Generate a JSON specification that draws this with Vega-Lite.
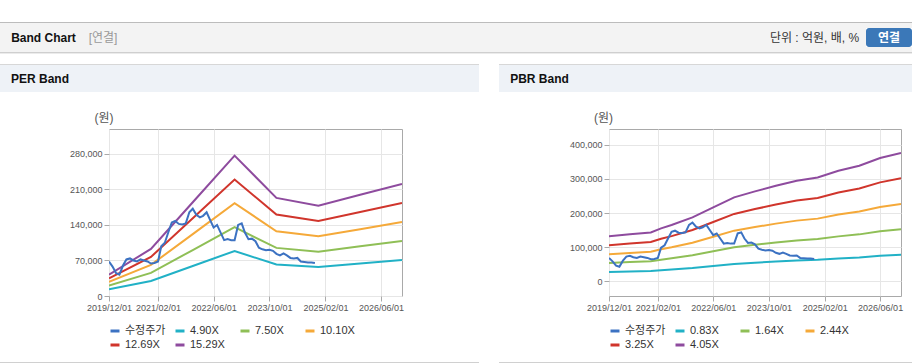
{
  "$schema": "https://vega.github.io/schema/vega-lite/v6.json",
  "padding": {"top": 22, "left": 0, "right": 0, "bottom": 0},
  "background": "#ffffff",
  "spacing": 0,
  "resolve": {"scale": {"color": "independent"}},
  "config": {
    "font": "Liberation Sans, Noto Sans CJK KR",
    "view": {"stroke": null},
    "concat": {"spacing": 0},
    "axis": {
      "domain": false, "grid": true, "gridColor": "#e6e6e6", "tickColor": "#a9a9a9", "tickSize": 5,
      "labelPadding": 2, "labelColor": "#555555", "labelFontSize": 9, "labelFont": "Liberation Sans",
      "labelFlush": false
    },
    "legend": {
      "orient": "bottom", "direction": "horizontal", "columns": 4, "gridAlign": "all",
      "symbolType": "stroke", "symbolStrokeWidth": 3, "symbolSize": 81, "labelFontSize": 11,
      "labelColor": "#333333", "labelFont": "Liberation Sans, Noto Sans CJK KR", "columnPadding": 3,
      "rowPadding": 2, "offset": 13, "labelOffset": 4
    }
  },
  "datasets": {
    "price": [
      {"d": "2019-12-01", "s": "수정주가", "v": 68000}, {"d": "2020-01-01", "s": "수정주가", "v": 58000},
      {"d": "2020-02-01", "s": "수정주가", "v": 45000}, {"d": "2020-03-01", "s": "수정주가", "v": 42000},
      {"d": "2020-04-01", "s": "수정주가", "v": 60000}, {"d": "2020-05-01", "s": "수정주가", "v": 72000},
      {"d": "2020-06-01", "s": "수정주가", "v": 74000}, {"d": "2020-07-01", "s": "수정주가", "v": 70000},
      {"d": "2020-08-01", "s": "수정주가", "v": 68000}, {"d": "2020-09-01", "s": "수정주가", "v": 72000},
      {"d": "2020-10-01", "s": "수정주가", "v": 70000}, {"d": "2020-11-01", "s": "수정주가", "v": 68000},
      {"d": "2020-12-01", "s": "수정주가", "v": 64000}, {"d": "2021-01-01", "s": "수정주가", "v": 65000},
      {"d": "2021-02-01", "s": "수정주가", "v": 68000}, {"d": "2021-03-01", "s": "수정주가", "v": 98000},
      {"d": "2021-04-01", "s": "수정주가", "v": 105000}, {"d": "2021-05-01", "s": "수정주가", "v": 125000},
      {"d": "2021-06-01", "s": "수정주가", "v": 145000}, {"d": "2021-07-01", "s": "수정주가", "v": 148000},
      {"d": "2021-08-01", "s": "수정주가", "v": 142000}, {"d": "2021-09-01", "s": "수정주가", "v": 141000},
      {"d": "2021-10-01", "s": "수정주가", "v": 143000}, {"d": "2021-11-01", "s": "수정주가", "v": 165000},
      {"d": "2021-12-01", "s": "수정주가", "v": 172000}, {"d": "2022-01-01", "s": "수정주가", "v": 160000},
      {"d": "2022-02-01", "s": "수정주가", "v": 155000}, {"d": "2022-03-01", "s": "수정주가", "v": 158000},
      {"d": "2022-04-01", "s": "수정주가", "v": 165000}, {"d": "2022-05-01", "s": "수정주가", "v": 150000},
      {"d": "2022-06-01", "s": "수정주가", "v": 135000}, {"d": "2022-07-01", "s": "수정주가", "v": 140000},
      {"d": "2022-08-01", "s": "수정주가", "v": 125000}, {"d": "2022-09-01", "s": "수정주가", "v": 110000},
      {"d": "2022-10-01", "s": "수정주가", "v": 112000}, {"d": "2022-11-01", "s": "수정주가", "v": 110000},
      {"d": "2022-12-01", "s": "수정주가", "v": 110000}, {"d": "2023-01-01", "s": "수정주가", "v": 140000},
      {"d": "2023-02-01", "s": "수정주가", "v": 143000}, {"d": "2023-03-01", "s": "수정주가", "v": 125000},
      {"d": "2023-04-01", "s": "수정주가", "v": 112000}, {"d": "2023-05-01", "s": "수정주가", "v": 113000},
      {"d": "2023-06-01", "s": "수정주가", "v": 108000}, {"d": "2023-07-01", "s": "수정주가", "v": 95000},
      {"d": "2023-08-01", "s": "수정주가", "v": 92000}, {"d": "2023-09-01", "s": "수정주가", "v": 90000},
      {"d": "2023-10-01", "s": "수정주가", "v": 91000}, {"d": "2023-11-01", "s": "수정주가", "v": 89000},
      {"d": "2023-12-01", "s": "수정주가", "v": 83000}, {"d": "2024-01-01", "s": "수정주가", "v": 80000},
      {"d": "2024-02-01", "s": "수정주가", "v": 84000}, {"d": "2024-03-01", "s": "수정주가", "v": 80000},
      {"d": "2024-04-01", "s": "수정주가", "v": 75000}, {"d": "2024-05-01", "s": "수정주가", "v": 74000},
      {"d": "2024-06-01", "s": "수정주가", "v": 75000}, {"d": "2024-07-01", "s": "수정주가", "v": 68000},
      {"d": "2024-08-01", "s": "수정주가", "v": 67000}, {"d": "2024-09-01", "s": "수정주가", "v": 66000},
      {"d": "2024-10-01", "s": "수정주가", "v": 66000}, {"d": "2024-11-01", "s": "수정주가", "v": 65000}
    ],
    "per": [
      {"d": "2019-12-01", "s": "4.90X", "v": 13460}, {"d": "2020-12-01", "s": "4.90X", "v": 29710},
      {"d": "2021-12-01", "s": "4.90X", "v": 59180}, {"d": "2022-12-01", "s": "4.90X", "v": 88640},
      {"d": "2023-12-01", "s": "4.90X", "v": 61920}, {"d": "2024-12-01", "s": "4.90X", "v": 57050},
      {"d": "2025-12-01", "s": "4.90X", "v": 63900}, {"d": "2026-12-01", "s": "4.90X", "v": 70760},
      {"d": "2019-12-01", "s": "7.50X", "v": 20600}, {"d": "2020-12-01", "s": "7.50X", "v": 45470},
      {"d": "2021-12-01", "s": "7.50X", "v": 90580}, {"d": "2022-12-01", "s": "7.50X", "v": 135680},
      {"d": "2023-12-01", "s": "7.50X", "v": 94770}, {"d": "2024-12-01", "s": "7.50X", "v": 87320},
      {"d": "2025-12-01", "s": "7.50X", "v": 97810}, {"d": "2026-12-01", "s": "7.50X", "v": 108310},
      {"d": "2019-12-01", "s": "10.10X", "v": 27750}, {"d": "2020-12-01", "s": "10.10X", "v": 61240},
      {"d": "2021-12-01", "s": "10.10X", "v": 121980}, {"d": "2022-12-01", "s": "10.10X", "v": 182710},
      {"d": "2023-12-01", "s": "10.10X", "v": 127620}, {"d": "2024-12-01", "s": "10.10X", "v": 117580},
      {"d": "2025-12-01", "s": "10.10X", "v": 131710}, {"d": "2026-12-01", "s": "10.10X", "v": 145850},
      {"d": "2019-12-01", "s": "12.69X", "v": 34860}, {"d": "2020-12-01", "s": "12.69X", "v": 76940},
      {"d": "2021-12-01", "s": "12.69X", "v": 153260}, {"d": "2022-12-01", "s": "12.69X", "v": 229560},
      {"d": "2023-12-01", "s": "12.69X", "v": 160350}, {"d": "2024-12-01", "s": "12.69X", "v": 147740},
      {"d": "2025-12-01", "s": "12.69X", "v": 165490}, {"d": "2026-12-01", "s": "12.69X", "v": 183260},
      {"d": "2019-12-01", "s": "15.29X", "v": 42000}, {"d": "2020-12-01", "s": "15.29X", "v": 92700},
      {"d": "2021-12-01", "s": "15.29X", "v": 184660}, {"d": "2022-12-01", "s": "15.29X", "v": 276600},
      {"d": "2023-12-01", "s": "15.29X", "v": 193200}, {"d": "2024-12-01", "s": "15.29X", "v": 178010},
      {"d": "2025-12-01", "s": "15.29X", "v": 199400}, {"d": "2026-12-01", "s": "15.29X", "v": 220800}
    ],
    "pbr": [
      {"d": "2019-12-01", "s": "0.83X", "v": 26900}, {"d": "2020-06-01", "s": "0.83X", "v": 28100},
      {"d": "2020-12-01", "s": "0.83X", "v": 29300}, {"d": "2021-03-01", "s": "0.83X", "v": 31700},
      {"d": "2021-06-01", "s": "0.83X", "v": 33700}, {"d": "2021-12-01", "s": "0.83X", "v": 38300},
      {"d": "2022-06-01", "s": "0.83X", "v": 44400}, {"d": "2022-12-01", "s": "0.83X", "v": 50400},
      {"d": "2023-06-01", "s": "0.83X", "v": 54000}, {"d": "2023-12-01", "s": "0.83X", "v": 57400},
      {"d": "2024-06-01", "s": "0.83X", "v": 60400}, {"d": "2024-12-01", "s": "0.83X", "v": 62400},
      {"d": "2025-06-01", "s": "0.83X", "v": 66400}, {"d": "2025-12-01", "s": "0.83X", "v": 69500},
      {"d": "2026-06-01", "s": "0.83X", "v": 74100}, {"d": "2026-12-01", "s": "0.83X", "v": 77100},
      {"d": "2019-12-01", "s": "1.64X", "v": 53200}, {"d": "2020-06-01", "s": "1.64X", "v": 55600},
      {"d": "2020-12-01", "s": "1.64X", "v": 57900}, {"d": "2021-03-01", "s": "1.64X", "v": 62700},
      {"d": "2021-06-01", "s": "1.64X", "v": 66700}, {"d": "2021-12-01", "s": "1.64X", "v": 75800},
      {"d": "2022-06-01", "s": "1.64X", "v": 87700}, {"d": "2022-12-01", "s": "1.64X", "v": 99600},
      {"d": "2023-06-01", "s": "1.64X", "v": 106700}, {"d": "2023-12-01", "s": "1.64X", "v": 113400},
      {"d": "2024-06-01", "s": "1.64X", "v": 119400}, {"d": "2024-12-01", "s": "1.64X", "v": 123300},
      {"d": "2025-06-01", "s": "1.64X", "v": 131300}, {"d": "2025-12-01", "s": "1.64X", "v": 137200},
      {"d": "2026-06-01", "s": "1.64X", "v": 146400}, {"d": "2026-12-01", "s": "1.64X", "v": 152300},
      {"d": "2019-12-01", "s": "2.44X", "v": 79100}, {"d": "2020-06-01", "s": "2.44X", "v": 82700},
      {"d": "2020-12-01", "s": "2.44X", "v": 86200}, {"d": "2021-03-01", "s": "2.44X", "v": 93300},
      {"d": "2021-06-01", "s": "2.44X", "v": 99200}, {"d": "2021-12-01", "s": "2.44X", "v": 112700},
      {"d": "2022-06-01", "s": "2.44X", "v": 130400}, {"d": "2022-12-01", "s": "2.44X", "v": 148100},
      {"d": "2023-06-01", "s": "2.44X", "v": 158700}, {"d": "2023-12-01", "s": "2.44X", "v": 168800},
      {"d": "2024-06-01", "s": "2.44X", "v": 177600}, {"d": "2024-12-01", "s": "2.44X", "v": 183500},
      {"d": "2025-06-01", "s": "2.44X", "v": 195300}, {"d": "2025-12-01", "s": "2.44X", "v": 204200},
      {"d": "2026-06-01", "s": "2.44X", "v": 217800}, {"d": "2026-12-01", "s": "2.44X", "v": 226600},
      {"d": "2019-12-01", "s": "3.25X", "v": 105400}, {"d": "2020-06-01", "s": "3.25X", "v": 110100},
      {"d": "2020-12-01", "s": "3.25X", "v": 114800}, {"d": "2021-03-01", "s": "3.25X", "v": 124200},
      {"d": "2021-06-01", "s": "3.25X", "v": 132100}, {"d": "2021-12-01", "s": "3.25X", "v": 150100},
      {"d": "2022-06-01", "s": "3.25X", "v": 173700}, {"d": "2022-12-01", "s": "3.25X", "v": 197300},
      {"d": "2023-06-01", "s": "3.25X", "v": 211500}, {"d": "2023-12-01", "s": "3.25X", "v": 224800},
      {"d": "2024-06-01", "s": "3.25X", "v": 236600}, {"d": "2024-12-01", "s": "3.25X", "v": 244400},
      {"d": "2025-06-01", "s": "3.25X", "v": 260200}, {"d": "2025-12-01", "s": "3.25X", "v": 272000},
      {"d": "2026-06-01", "s": "3.25X", "v": 290100}, {"d": "2026-12-01", "s": "3.25X", "v": 301900},
      {"d": "2019-12-01", "s": "4.05X", "v": 131300}, {"d": "2020-06-01", "s": "4.05X", "v": 137200},
      {"d": "2020-12-01", "s": "4.05X", "v": 143000}, {"d": "2021-03-01", "s": "4.05X", "v": 154800},
      {"d": "2021-06-01", "s": "4.05X", "v": 164600}, {"d": "2021-12-01", "s": "4.05X", "v": 187100},
      {"d": "2022-06-01", "s": "4.05X", "v": 216500}, {"d": "2022-12-01", "s": "4.05X", "v": 245900},
      {"d": "2023-06-01", "s": "4.05X", "v": 263500}, {"d": "2023-12-01", "s": "4.05X", "v": 280100},
      {"d": "2024-06-01", "s": "4.05X", "v": 294800}, {"d": "2024-12-01", "s": "4.05X", "v": 304600},
      {"d": "2025-06-01", "s": "4.05X", "v": 324200}, {"d": "2025-12-01", "s": "4.05X", "v": 338900},
      {"d": "2026-06-01", "s": "4.05X", "v": 361500}, {"d": "2026-12-01", "s": "4.05X", "v": 376200}
    ]
  },
  "vconcat": [
    {"width": 912, "height": 1, "view": {"fill": "#bcbcbc"}, "data": {"values": []}, "mark": "text"},
    {"width": 912, "height": 5, "view": {"fill": "#f3f3f3"}, "data": {"values": []}, "mark": "text"},
    {
      "hconcat": [
        {"width": 87, "height": 19, "view": {"fill": "#f3f3f3"}, "data": {"values": [{"t": "Band Chart"}]},
         "mark": {"type": "text", "fontSize": 12, "fontWeight": "bold", "color": "#111111"}, "encoding": {"text": {"field": "t"}}},
        {"width": 32, "height": 19, "view": {"fill": "#f3f3f3"}, "data": {"values": [{"t": "[연결]"}]},
         "mark": {"type": "text", "fontSize": 12, "color": "#999999"}, "encoding": {"text": {"field": "t"}}},
        {"width": 649, "height": 19, "view": {"fill": "#f3f3f3"}, "data": {"values": []}, "mark": "text"},
        {"width": 93, "height": 19, "view": {"fill": "#f3f3f3"}, "data": {"values": [{"t": "단위 : 억원, 배, %"}]},
         "mark": {"type": "text", "fontSize": 12, "color": "#333333"}, "encoding": {"text": {"field": "t"}}},
        {"width": 5, "height": 19, "view": {"fill": "#f3f3f3"}, "data": {"values": []}, "mark": "text"},
        {"width": 46, "height": 19, "view": {"fill": "#3b78b8", "cornerRadius": 3}, "data": {"values": [{"t": "연결"}]},
         "mark": {"type": "text", "fontSize": 12, "fontWeight": "bold", "color": "#ffffff"}, "encoding": {"text": {"field": "t"}}}
      ],
      "spacing": 0
    },
    {"width": 912, "height": 5, "view": {"fill": "#f3f3f3"}, "data": {"values": []}, "mark": "text"},
    {"width": 912, "height": 1, "view": {"fill": "#cfcfcf"}, "data": {"values": []}, "mark": "text"},
    {"width": 912, "height": 1, "view": {"fill": "#ebebeb"}, "data": {"values": []}, "mark": "text"},
    {"width": 912, "height": 10, "data": {"values": []}, "mark": "text"},
    {
      "hconcat": [
        {"width": 479, "height": 1, "view": {"fill": "#d7d7d7"}, "data": {"values": []}, "mark": "text"},
        {"width": 20, "height": 1, "data": {"values": []}, "mark": "text"},
        {"width": 413, "height": 1, "view": {"fill": "#d7d7d7"}, "data": {"values": []}, "mark": "text"}
      ],
      "spacing": 0
    },
    {
      "hconcat": [
        {"width": 80, "height": 27, "view": {"fill": "#eef2f7"}, "data": {"values": [{"t": "PER Band"}]},
         "mark": {"type": "text", "fontSize": 12, "fontWeight": "bold", "color": "#111111"}, "encoding": {"text": {"field": "t"}}},
        {"width": 399, "height": 27, "view": {"fill": "#eef2f7"}, "data": {"values": []}, "mark": "text"},
        {"width": 20, "height": 27, "data": {"values": []}, "mark": "text"},
        {"width": 81, "height": 27, "view": {"fill": "#eef2f7"}, "data": {"values": [{"t": "PBR Band"}]},
         "mark": {"type": "text", "fontSize": 12, "fontWeight": "bold", "color": "#111111"}, "encoding": {"text": {"field": "t"}}},
        {"width": 332, "height": 27, "view": {"fill": "#eef2f7"}, "data": {"values": []}, "mark": "text"}
      ],
      "spacing": 0
    },
    {"width": 912, "height": 20, "data": {"values": []}, "mark": "text"},
    {
      "hconcat": [
        {"width": 88, "height": 12, "data": {"values": []}, "mark": "text"},
        {"width": 32, "height": 12, "data": {"values": [{"t": "(원)"}]},
         "mark": {"type": "text", "fontSize": 12, "color": "#555555"}, "encoding": {"text": {"field": "t"}}},
        {"width": 467, "height": 12, "data": {"values": []}, "mark": "text"},
        {"width": 33, "height": 12, "data": {"values": [{"t": "(원)"}]},
         "mark": {"type": "text", "fontSize": 12, "color": "#555555"}, "encoding": {"text": {"field": "t"}}},
        {"width": 292, "height": 12, "data": {"values": []}, "mark": "text"}
      ],
      "spacing": 0
    },
    {"width": 912, "height": 4, "data": {"values": []}, "mark": "text"},
    {
      "hconcat": [
        {"width": 109, "height": 167, "data": {"values": []}, "mark": "text"},
        {
          "width": 293, "height": 167,
          "view": {"stroke": "#a9a9a9", "fill": "#ffffff"},
          "encoding": {
            "x": {"field": "d", "type": "temporal",
              "scale": {"type": "utc", "domain": [{"year": 2019, "month": 12, "date": 1, "utc": true}, {"year": 2026, "month": 12, "date": 1, "utc": true}]},
              "axis": {"title": null, "format": "%Y/%m/%d", "labelOverlap": false, "labelFlush": false,
                "values": [{"year": 2019, "month": 12, "date": 1, "utc": true}, {"year": 2021, "month": 2, "date": 1, "utc": true}, {"year": 2022, "month": 6, "date": 1, "utc": true}, {"year": 2023, "month": 10, "date": 1, "utc": true}, {"year": 2025, "month": 2, "date": 1, "utc": true}, {"year": 2026, "month": 6, "date": 1, "utc": true}]}},
            "y": {"field": "v", "type": "quantitative",
              "scale": {"domain": [0, 329000], "nice": false, "zero": false},
              "axis": {"title": null, "values": [0, 70000, 140000, 210000, 280000], "format": ",d"}},
            "color": {"field": "s", "type": "nominal",
              "scale": {"domain": ["수정주가", "4.90X", "7.50X", "10.10X", "12.69X", "15.29X"], "range": ["#3c72c2", "#21b1c6", "#8fbf56", "#f5a939", "#d0352c", "#8e4b9e"]},
              "legend": {"title": null}}
          },
          "layer": [
            {"data": {"name": "per"}, "mark": {"type": "line", "strokeWidth": 2, "clip": true}},
            {"data": {"name": "price"}, "mark": {"type": "line", "strokeWidth": 2, "clip": true}}
          ]
        },
        {"width": 207, "height": 167, "data": {"values": []}, "mark": "text"},
        {
          "width": 292, "height": 167,
          "view": {"stroke": "#a9a9a9", "fill": "#ffffff"},
          "encoding": {
            "x": {"field": "d", "type": "temporal",
              "scale": {"type": "utc", "domain": [{"year": 2019, "month": 12, "date": 1, "utc": true}, {"year": 2026, "month": 12, "date": 1, "utc": true}]},
              "axis": {"title": null, "format": "%Y/%m/%d", "labelOverlap": false, "labelFlush": false,
                "values": [{"year": 2019, "month": 12, "date": 1, "utc": true}, {"year": 2021, "month": 2, "date": 1, "utc": true}, {"year": 2022, "month": 6, "date": 1, "utc": true}, {"year": 2023, "month": 10, "date": 1, "utc": true}, {"year": 2025, "month": 2, "date": 1, "utc": true}, {"year": 2026, "month": 6, "date": 1, "utc": true}]}},
            "y": {"field": "v", "type": "quantitative",
              "scale": {"domain": [-44000, 447000], "nice": false, "zero": false},
              "axis": {"title": null, "values": [0, 100000, 200000, 300000, 400000], "format": ",d"}},
            "color": {"field": "s", "type": "nominal",
              "scale": {"domain": ["수정주가", "0.83X", "1.64X", "2.44X", "3.25X", "4.05X"], "range": ["#3c72c2", "#21b1c6", "#8fbf56", "#f5a939", "#d0352c", "#8e4b9e"]},
              "legend": {"title": null}}
          },
          "layer": [
            {"data": {"name": "pbr"}, "mark": {"type": "line", "strokeWidth": 2, "clip": true}},
            {"data": {"name": "price"}, "mark": {"type": "line", "strokeWidth": 2, "clip": true}}
          ]
        },
        {"width": 11, "height": 167, "data": {"values": []}, "mark": "text"}
      ],
      "spacing": 0,
      "bounds": "flush",
      "resolve": {"scale": {"color": "independent"}}
    },
    {"width": 912, "height": 10, "data": {"values": []}, "mark": "text"},
    {
      "hconcat": [
        {"width": 479, "height": 1, "view": {"fill": "#d0d0d0"}, "data": {"values": []}, "mark": "text"},
        {"width": 20, "height": 1, "data": {"values": []}, "mark": "text"},
        {"width": 413, "height": 1, "view": {"fill": "#d0d0d0"}, "data": {"values": []}, "mark": "text"}
      ],
      "spacing": 0
    }
  ]
}
